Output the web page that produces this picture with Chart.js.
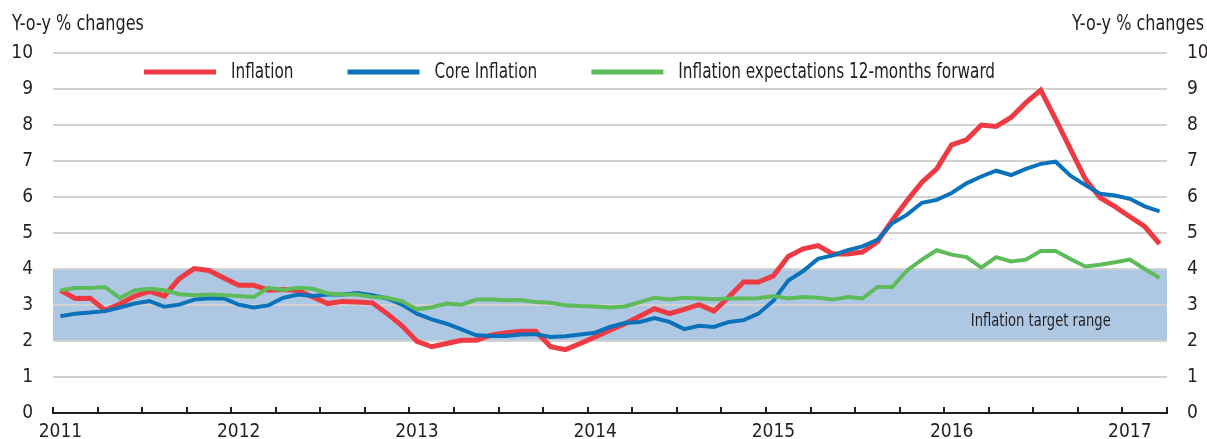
<!DOCTYPE html>
<html>
<head>
<meta charset="utf-8">
<script src="https://cdn.jsdelivr.net/npm/chart.js@4.4.1/dist/chart.umd.min.js"></script>
<style>
    html, body { margin: 0; padding: 0; background: #fff; }
</style>
</head>
<body>
<canvas id="myChart" width="1207" height="439"></canvas>
<script>
// DATA :
const startYear = 2011;
const monthCount = 75; // Jan 2011 - Mar 2017

const months = [];
for (let i = 0; i < monthCount; i++) {
    const y = startYear + Math.floor(i / 12);
    const m = (i % 12) + 1;
    months.push(`${y}-${m < 10 ? '0' + m : m}`);
}

const inflation = [
    3.41, 3.18, 3.19, 2.85, 3.03, 3.25, 3.38, 3.25, 3.73, 4.01, 3.96, 3.75,
    3.55, 3.55, 3.41, 3.43, 3.40, 3.22, 3.04, 3.10, 3.08, 3.06, 2.76, 2.42,
    1.99, 1.84, 1.93, 2.02, 2.02, 2.16, 2.23, 2.27, 2.27, 1.84, 1.76, 1.93,
    2.11, 2.30, 2.48, 2.69, 2.90, 2.76, 2.88, 3.01, 2.83, 3.22, 3.64, 3.64,
    3.81, 4.35, 4.56, 4.65, 4.42, 4.42, 4.47, 4.75, 5.35, 5.90, 6.41, 6.78,
    7.45, 7.59, 8.00, 7.96, 8.21, 8.62, 8.97, 8.16, 7.33, 6.50, 5.98, 5.73,
    5.45, 5.18, 4.70
];

const coreInflation = [
    2.69, 2.76, 2.79, 2.83, 2.93, 3.04, 3.11, 2.95, 3.01, 3.15, 3.19, 3.18,
    3.01, 2.93, 2.99, 3.20, 3.29, 3.25, 3.29, 3.29, 3.33, 3.27, 3.18, 3.01,
    2.76, 2.60, 2.48, 2.32, 2.16, 2.14, 2.14, 2.18, 2.19, 2.11, 2.13, 2.18,
    2.23, 2.39, 2.50, 2.53, 2.64, 2.53, 2.33, 2.42, 2.39, 2.53, 2.58, 2.76,
    3.12, 3.68, 3.94, 4.28, 4.38, 4.52, 4.63, 4.81, 5.27, 5.51, 5.84, 5.92,
    6.11, 6.38, 6.57, 6.73, 6.61, 6.78, 6.92, 6.98, 6.59, 6.33, 6.09, 6.04,
    5.95, 5.74, 5.60
];

const expectations = [
    3.41, 3.47, 3.47, 3.50, 3.19, 3.41, 3.45, 3.41, 3.30, 3.27, 3.29, 3.27,
    3.25, 3.22, 3.48, 3.42, 3.48, 3.45, 3.32, 3.29, 3.29, 3.22, 3.20, 3.10,
    2.88, 2.94, 3.04, 3.01, 3.15, 3.15, 3.13, 3.14, 3.08, 3.06, 2.99, 2.97,
    2.96, 2.93, 2.96, 3.08, 3.20, 3.15, 3.20, 3.18, 3.16, 3.18, 3.18, 3.19,
    3.25, 3.18, 3.22, 3.20, 3.15, 3.22, 3.18, 3.50, 3.50, 3.96, 4.26, 4.52,
    4.40, 4.33, 4.04, 4.33, 4.21, 4.26, 4.50, 4.50, 4.28, 4.07, 4.12, 4.19,
    4.26, 4.00, 3.75
];

const bandLow = 2;
const bandHigh = 4;
const bandLabel = 'Inflation target range';
const axisTitle = 'Y-o-y % changes';

// STYLE :
const FONT = "'Liberation Sans Narrow', 'Arial Narrow', 'DejaVu Sans Condensed', sans-serif";
const TEXT = '#231f20';

Chart.defaults.font.family = FONT;
Chart.defaults.font.size = 19;
Chart.defaults.color = TEXT;

// the original uses a narrow face; squeeze the free texts a bit
function narrowText(ctx, text, x, y, squeeze) {
    ctx.save();
    ctx.translate(x, y);
    ctx.scale(squeeze, 1);
    ctx.fillText(text, 0, 0);
    ctx.restore();
    return ctx.measureText(text).width * squeeze;
}

// y axes: keep the label overhang from shrinking the plot
const yFit = (w) => (scale) => {
    scale.width = w;
    scale.paddingTop = 0;
    scale.paddingBottom = 0;
};

// target range band, below the grid
const bandPlugin = {
    id: 'targetBand',
    beforeDraw(chart) {
        const { ctx, chartArea, scales } = chart;
        const top = scales.y.getPixelForValue(bandHigh);
        const bottom = scales.y.getPixelForValue(bandLow);
        ctx.save();
        ctx.fillStyle = '#aec8e4';
        ctx.fillRect(chartArea.left, top, chartArea.right - chartArea.left, bottom - top);
        ctx.restore();
    },
    beforeDatasetsDraw(chart) {
        const { ctx, scales } = chart;
        ctx.save();
        ctx.font = `18px ${FONT}`;
        ctx.fillStyle = TEXT;
        ctx.textAlign = 'center';
        ctx.textBaseline = 'middle';
        narrowText(ctx, bandLabel, scales.x.getPixelForValue(66), scales.y.getPixelForValue(2.55), 0.81);
        ctx.restore();
    }
};

// legend, titles and inward tick marks
const decoPlugin = {
    id: 'deco',
    afterDraw(chart) {
        const { ctx, chartArea, scales } = chart;
        ctx.save();

        // quarterly tick marks pointing up from the axis
        const x = scales.x;
        const step = x.getPixelForValue(1) - x.getPixelForValue(0);
        const first = x.getPixelForValue(0) - step / 2;
        ctx.strokeStyle = TEXT;
        ctx.lineWidth = 2;
        ctx.beginPath();
        for (let i = 0; i <= months.length; i += 3) {
            const px = Math.round(first + i * step);
            ctx.moveTo(px, chartArea.bottom);
            ctx.lineTo(px, chartArea.bottom - 6);
        }
        ctx.stroke();

        // axis titles
        ctx.font = `21px ${FONT}`;
        ctx.fillStyle = TEXT;
        ctx.textBaseline = 'alphabetic';
        ctx.textAlign = 'left';
        narrowText(ctx, axisTitle, 12, 30, 0.85);
        ctx.textAlign = 'right';
        narrowText(ctx, axisTitle, chart.width - 3, 30, 0.85);

        // legend
        let lx = chartArea.left + 91;
        const ly = chartArea.top + 19;
        ctx.textAlign = 'left';
        ctx.textBaseline = 'middle';
        chart.data.datasets.forEach((ds) => {
            ctx.strokeStyle = ds.borderColor;
            ctx.lineWidth = 5;
            ctx.beginPath();
            ctx.moveTo(lx, ly);
            ctx.lineTo(lx + 72, ly);
            ctx.stroke();
            lx += 72 + 15;
            lx += narrowText(ctx, ds.label, lx, ly + 1, 0.81) + 54;
        });

        ctx.restore();
    }
};

const ctx = document.getElementById('myChart').getContext('2d');

const data = {
    labels: months,
    datasets: [
        {
            label: 'Inflation',
            data: inflation,
            borderColor: '#ee3a43',
            borderWidth: 5,
            order: 3,
        },
        {
            label: 'Core Inflation',
            data: coreInflation,
            borderColor: '#0a72ba',
            borderWidth: 4,
            order: 2,
        },
        {
            label: 'Inflation expectations 12-months forward',
            data: expectations,
            borderColor: '#5dbb5a',
            borderWidth: 4,
            order: 1,
        },
    ],
};

const config = {
    type: 'line',
    data: data,
    options: {
        responsive: false,
        animation: false,
        layout: { padding: { top: 53, left: 0, right: 0, bottom: 0 } },
        elements: {
            point: { radius: 0 },
            line: { tension: 0, fill: false },
        },
        plugins: {
            legend: { display: false },
            tooltip: { enabled: false },
        },
        scales: {
            x: {
                type: 'category',
                offset: true,
                grid: { display: true, drawOnChartArea: false, drawTicks: false },
                border: { display: true, color: TEXT, width: 2 },
                ticks: {
                    autoSkip: false,
                    maxRotation: 0,
                    padding: 8,
                    callback: (val, i) => months[i].endsWith('-01') ? months[i].slice(0, 4) : '',
                },
                afterFit: (scale) => { scale.height = 26; },
            },
            y: {
                position: 'left',
                min: 0,
                max: 10,
                grid: { color: '#d2d2d2', lineWidth: 2, drawTicks: false },
                border: { display: false },
                ticks: { stepSize: 1, padding: 20 },
                afterFit: yFit(53),
            },
            y2: {
                position: 'right',
                min: 0,
                max: 10,
                grid: { display: false, drawTicks: false },
                border: { display: false },
                ticks: { stepSize: 1, padding: 20 },
                afterFit: yFit(40),
            },
        },
    },
    plugins: [bandPlugin, decoPlugin],
};

const myChart = new Chart(ctx, config);
</script>
</body>
</html>
